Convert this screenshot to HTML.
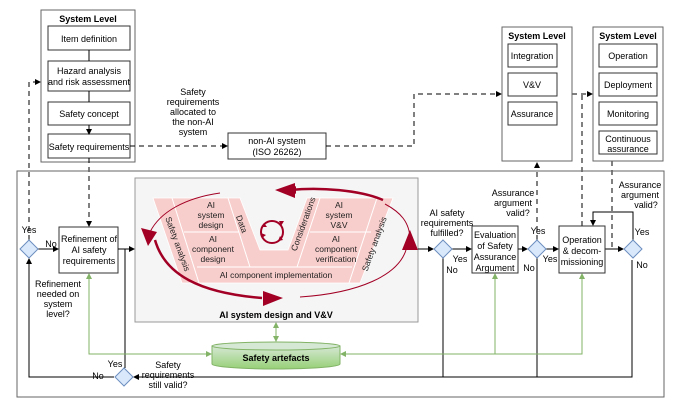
<!DOCTYPE html>
<html><head><meta charset="utf-8"><style>
html,body{margin:0;padding:0;background:#fff;}
svg{display:block;font-family:"Liberation Sans",Arial,sans-serif;}
</style></head><body>
<svg width="682" height="408" viewBox="0 0 682 408" xmlns="http://www.w3.org/2000/svg">
<defs>
<marker id="ab" markerWidth="6" markerHeight="6" refX="5" refY="3" orient="auto" markerUnits="userSpaceOnUse"><path d="M0,0L6,3L0,6z" fill="#000"/></marker>
<marker id="ag" markerWidth="6" markerHeight="6" refX="5" refY="3" orient="auto" markerUnits="userSpaceOnUse"><path d="M0,0L6,3L0,6z" fill="#82b366"/></marker>
<marker id="ag2" markerWidth="6" markerHeight="6" refX="1" refY="3" orient="auto" markerUnits="userSpaceOnUse"><path d="M6,0L0,3L6,6z" fill="#82b366"/></marker>
<linearGradient id="cyl" x1="0" y1="0" x2="0" y2="1"><stop offset="0" stop-color="#d5e8d4"/><stop offset="1" stop-color="#97d077"/></linearGradient>
</defs>
<g font-size="9" fill="#000" text-anchor="middle">
<!-- Left system level -->
<rect x="41" y="10" width="94" height="152" fill="#fff" stroke="#666"/>
<text x="88" y="22" font-weight="bold">System Level</text>
<rect x="48" y="26" width="82" height="24" fill="#fff" stroke="#333"/><text x="89" y="42">Item definition</text>
<rect x="48" y="61" width="82" height="30" fill="#fff" stroke="#333"/><text x="89" y="74">Hazard analysis</text><text x="89" y="85">and risk assessment</text>
<rect x="48" y="102" width="82" height="23" fill="#fff" stroke="#333"/><text x="89" y="117">Safety concept</text>
<rect x="48" y="134" width="82" height="24" fill="#fff" stroke="#333"/><text x="89" y="150">Safety requirements</text>
<path d="M89 50V61M89 91V102M89 125V134" stroke="#000" marker-end="url(#ab)"/>
<text x="193" y="95">Safety</text><text x="193" y="105">requirements</text><text x="193" y="115">allocated to</text><text x="193" y="125">the non-AI</text><text x="193" y="135">system</text>
<rect x="228" y="133" width="98" height="26" fill="#fff" stroke="#333"/><text x="277" y="144">non-AI system</text><text x="277" y="155">(ISO 26262)</text>
<g stroke="#000" fill="none" stroke-dasharray="5,4">
<path d="M130 146H227" marker-end="url(#ab)"/>
<path d="M326 146H414V94H501" marker-end="url(#ab)"/>
<path d="M572 94H592" marker-end="url(#ab)"/>
<path d="M89 158V226" marker-end="url(#ab)"/>
<path d="M29 240V82H40" marker-end="url(#ab)"/>
<path d="M537 240V163" marker-end="url(#ab)"/>
<path d="M582 226V94"/>
<path d="M612 161V249"/>
</g>
<!-- Middle system level -->
<rect x="502" y="27" width="70" height="134" fill="#fff" stroke="#666"/>
<text x="537" y="39" font-weight="bold">System Level</text>
<rect x="508" y="44" width="49" height="23" fill="#fff" stroke="#333"/><text x="532" y="59">Integration</text>
<rect x="508" y="73" width="49" height="23" fill="#fff" stroke="#333"/><text x="532" y="88">V&amp;V</text>
<rect x="508" y="102" width="49" height="23" fill="#fff" stroke="#333"/><text x="532" y="117">Assurance</text>
<!-- Right system level -->
<rect x="593" y="27" width="70" height="134" fill="#fff" stroke="#666"/>
<text x="628" y="39" font-weight="bold">System Level</text>
<rect x="599" y="44" width="58" height="23" fill="#fff" stroke="#333"/><text x="628" y="59">Operation</text>
<rect x="599" y="73" width="58" height="23" fill="#fff" stroke="#333"/><text x="628" y="88">Deployment</text>
<rect x="599" y="102" width="58" height="23" fill="#fff" stroke="#333"/><text x="628" y="117">Monitoring</text>
<rect x="599" y="131" width="58" height="23" fill="#fff" stroke="#333"/><text x="628" y="142">Continuous</text><text x="628" y="152">assurance</text>
<!-- Outer frame -->
<rect x="17" y="171" width="647" height="226" fill="none" stroke="#666"/>
<!-- Gray box -->
<rect x="135" y="178" width="283" height="144" fill="#f5f5f5" stroke="#999"/>
<text x="276" y="318" font-weight="bold">AI system design and V&amp;V</text>
<!-- V shape -->
<path d="M153 198H240L260 250H288L307 198H393L360 283H182Z" fill="#f8cecc" stroke="#fff" stroke-width="0.8"/>
<g stroke="#fff" stroke-width="1" fill="none">
<path d="M172 198L199 283M228 198L250 267M320 198L297 267M377 198L349 283M197 267H352M184 232H239M310 232H371"/>
</g>
<g font-size="8.5" fill="#222">
<text x="211" y="208">AI</text><text x="211" y="218">system</text><text x="211" y="228">design</text>
<text x="213" y="242">AI</text><text x="213" y="252">component</text><text x="213" y="262">design</text>
<text x="339" y="208">AI</text><text x="339" y="218">system</text><text x="339" y="228">V&amp;V</text>
<text x="336" y="242">AI</text><text x="336" y="252">component</text><text x="336" y="262">verification</text>
<text x="276" y="278">AI component implementation</text>
<text transform="translate(175,245) rotate(70)">Safety analysis</text>
<text transform="translate(239,225) rotate(70)">Data</text>
<text transform="translate(306,225) rotate(-70)">Considerations</text>
<text transform="translate(377,245) rotate(-70)">Safety analysis</text>
</g>
<!-- red ellipse arrows -->
<g fill="none" stroke="#a20025">
<path d="M383 200C360 190 320 187 290 190" stroke-width="2.5"/>
<path d="M220 193C185 198 160 212 150 232" stroke-width="1"/>
<path d="M155 240C165 275 200 293 262 298" stroke-width="2.5"/>
<path d="M300 297C360 293 398 275 406 250" stroke-width="1"/>
<path d="M385 204C400 212 410 222 410 240" stroke-width="1"/>
<circle cx="272" cy="232" r="11" stroke-width="2"/>
</g>
<g fill="#a20025">
<path d="M275 190L295 183L295 198Z"/>
<path d="M148 246L141 228L157 232Z"/>
<path d="M283 298L263 291L263 306Z"/>
<path d="M410 230L402 250L418 250Z"/>
<path d="M290 190L296 186L296 194Z" />
<path d="M279 221l5 0-3 5z M283 240l-5 1 2-5z M262 238l-1-5 5 2z M264 223l3 4-5 0z"/>
</g>
<!-- left flow -->
<rect x="59" y="227" width="59" height="46" fill="#fff" stroke="#333"/>
<text x="89" y="242">Refinement of</text><text x="89" y="253">AI safety</text><text x="89" y="264">requirements</text>
<g stroke="#000" fill="none">
<path d="M38 249H58" marker-end="url(#ab)"/>
<path d="M118 249H134" marker-end="url(#ab)"/>
<path d="M125 249V368"/>
<path d="M114 377H29V259" marker-end="url(#ab)"/>
<path d="M632 260V377H134" marker-end="url(#ab)"/>
<path d="M443 258V377M537 258V377"/>
<path d="M418 249H433" marker-end="url(#ab)"/>
<path d="M452 249H471" marker-end="url(#ab)"/>
<path d="M518 249H527" marker-end="url(#ab)"/>
<path d="M546 249H558" marker-end="url(#ab)"/>
<path d="M605 249H623" marker-end="url(#ab)"/>
<path d="M633 240V212H593V225" marker-end="url(#ab)"/>
</g>
<g fill="#dae8fc" stroke="#6c8ebf">
<path d="M29 240L38 249L29 258L20 249Z"/>
<path d="M124 368L133 377L124 386L115 377Z"/>
<path d="M443 240L452 249L443 258L434 249Z"/>
<path d="M537 240L546 249L537 258L528 249Z"/>
<path d="M633 240L642 249L633 258L624 249Z"/>
</g>
<text x="29" y="233">Yes</text><text x="51" y="247">No</text>
<text x="58" y="287">Refinement</text><text x="58" y="297">needed on</text><text x="58" y="307">system</text><text x="58" y="317">level?</text>
<text x="115" y="367">Yes</text><text x="98" y="379">No</text>
<text x="168" y="368">Safety</text><text x="168" y="378">requirements</text><text x="168" y="388">still valid?</text>
<!-- right flow -->
<rect x="472" y="226" width="46" height="47" fill="#fff" stroke="#333"/>
<text x="495" y="238">Evaluation</text><text x="495" y="249">of Safety</text><text x="495" y="260">Assurance</text><text x="495" y="271">Argument</text>
<rect x="559" y="226" width="46" height="47" fill="#fff" stroke="#333"/>
<text x="582" y="243">Operation</text><text x="582" y="254">&amp; decom-</text><text x="582" y="265">missioning</text>
<text x="447" y="216">AI safety</text><text x="447" y="226">requirements</text><text x="447" y="236">fulfilled?</text>
<text x="460" y="262">Yes</text><text x="452" y="273">No</text>
<text x="513" y="196">Assurance</text><text x="513" y="206">argument</text><text x="518" y="216">valid?</text>
<text x="538" y="234">Yes</text><text x="529" y="271">No</text><text x="550" y="262">Yes</text>
<text x="640" y="188">Assurance</text><text x="640" y="198">argument</text><text x="646" y="208">valid?</text>
<text x="642" y="235">Yes</text><text x="642" y="268">No</text>
<!-- green -->
<g stroke="#82b366" fill="none">
<path d="M89 274V354H211" marker-start="url(#ag2)" marker-end="url(#ag)"/>
<path d="M341 354H582V274" marker-start="url(#ag2)" marker-end="url(#ag)"/>
<path d="M495 354V274" marker-end="url(#ag)"/>
<path d="M276 341V323" marker-start="url(#ag2)" marker-end="url(#ag)" transform="" />
</g>
<path d="M212 346V364A64 5 0 0 0 340 364V346Z" fill="url(#cyl)" stroke="#82b366"/>
<ellipse cx="276" cy="346" rx="64" ry="4" fill="#d5e8d4" stroke="#82b366"/>
<text x="276" y="361" font-weight="bold">Safety artefacts</text>
</g>
</svg>
</body></html>
